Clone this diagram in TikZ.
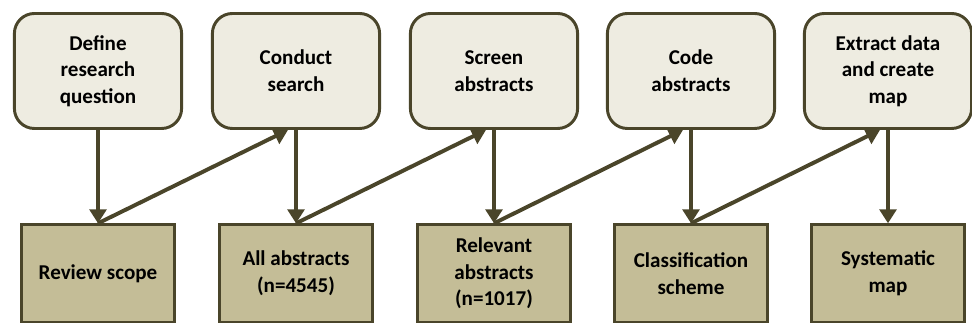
\documentclass[tikz,border=0pt]{standalone}
\usepackage{fontspec}
\setmainfont{Carlito}
\usetikzlibrary{arrows.meta}
\definecolor{olivedark}{HTML}{4A452A}
\definecolor{beigelight}{HTML}{EEECE1}
\definecolor{tan}{HTML}{C4BD97}
\tikzset{
  stepbox/.style={draw=olivedark, line width=2.1pt, fill=beigelight, rounded corners=0.5cm,
    minimum width=4.18cm, minimum height=2.875cm, align=center,
    font=\bfseries\fontsize{15}{19}\selectfont},
  resultbox/.style={draw=olivedark, line width=2.1pt, fill=tan,
    minimum width=3.83cm, minimum height=2.43cm, align=center,
    font=\bfseries\fontsize{15}{19}\selectfont},
  flow/.style={draw=olivedark, line width=2.8pt, -{Triangle[length=10pt,width=12pt]}}
}
\begin{document}
\begin{tikzpicture}
\useasboundingbox (0,0) rectangle (24.3,8.125);

\node[stepbox] (t1) at (2.45,6.35) {Define\\research\\question};
\node[stepbox] (t2) at (7.4,6.35) {Conduct\\search};
\node[stepbox] (t3) at (12.35,6.35) {Screen\\abstracts};
\node[stepbox] (t4) at (17.275,6.35) {Code\\abstracts};
\node[stepbox] (t5) at (22.2,6.35) {Extract data\\and create\\map};

\node[resultbox] (b1) at (2.45,1.29) {Review scope};
\node[resultbox] (b2) at (7.4,1.29) {All abstracts\\(n=4545)};
\node[resultbox] (b3) at (12.35,1.29) {Relevant\\abstracts\\(n=1017)};
\node[resultbox] (b4) at (17.275,1.29) {Classification\\scheme};
\node[resultbox] (b5) at (22.2,1.29) {Systematic\\map};

\draw[flow] (t1) -- (b1);
\draw[flow] (t2) -- (b2);
\draw[flow] (t3) -- (b3);
\draw[flow] (t4) -- (b4);
\draw[flow] (t5) -- (b5);

\draw[flow] (b1.north) -- ([xshift=-0.2cm]t2.south);
\draw[flow] (b2.north) -- ([xshift=-0.2cm]t3.south);
\draw[flow] (b3.north) -- ([xshift=-0.2cm]t4.south);
\draw[flow] (b4.north) -- ([xshift=-0.2cm]t5.south);

\end{tikzpicture}
\end{document}
